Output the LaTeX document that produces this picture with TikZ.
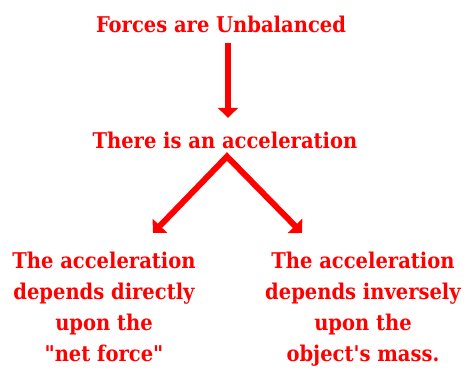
\documentclass[tikz,border=0pt]{standalone}
\usepackage{fontspec}
\newfontfamily\slab[Ligatures=TeXOff]{DejaVu Serif Condensed}
\usetikzlibrary{arrows.meta}
\definecolor{fred}{RGB}{255,0,0}
\begin{document}
\begin{tikzpicture}[x=1pt,y=-1pt,
  lbl/.style={text=fred, font=\slab\bfseries\fontsize{21.7}{31}\selectfont, align=center, inner sep=0pt},
  headtip/.tip={Triangle[width=20pt,length=10pt]},
  conn/.style={draw=fred, line width=6pt, line join=miter}]
\useasboundingbox (0,0) rectangle (467,370);
\node[lbl, anchor=base] (forces) at (221,32) {Forces are Unbalanced};
\node[lbl, anchor=base] (accel) at (225,148) {There is an acceleration};
\node[lbl, anchor=north] (left) at (104,251.5) {The acceleration\\depends directly\\upon the\\"net force"};
\node[lbl, anchor=north] (right) at (363,251.5) {The acceleration\\depends inversely\\upon the\\object's mass.};
\coordinate (apex) at ([xshift=2pt,yshift=-8pt]accel.south);
\draw[conn, -{headtip}] ([xshift=7pt,yshift=-10pt]forces.south) -- ([xshift=3pt,yshift=13.5pt]accel.north);
\draw[conn, {headtip}-{headtip}] ([xshift=49pt,yshift=18.5pt]left.north) -- (apex) -- ([xshift=-61pt,yshift=18.5pt]right.north);
\end{tikzpicture}
\end{document}
